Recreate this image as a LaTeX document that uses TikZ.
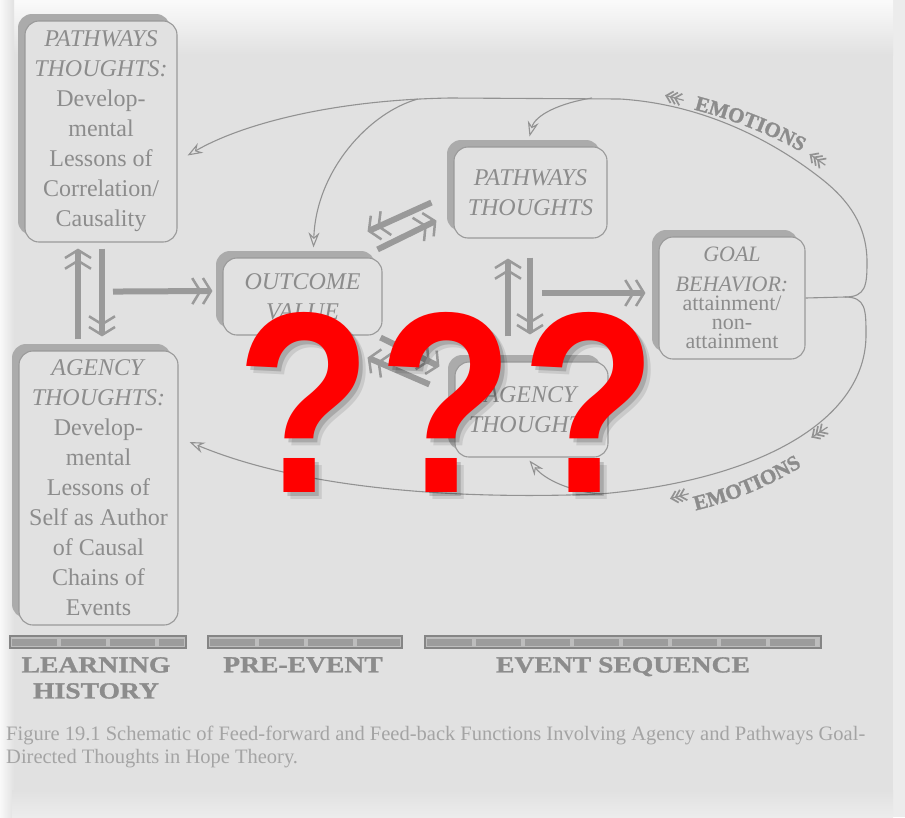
\documentclass[tikz,border=0pt]{standalone}
\usepackage{fontspec}
\newfontfamily\tnr{Liberation Serif}
\newfontfamily\slabf{Liberation Serif}[FakeStretch=1.2, BoldFeatures={FakeBold=1.2}]
\newfontfamily\emofam{Liberation Serif}[BoldFeatures={FakeBold=1.5}]
\newfontfamily\qsans{Liberation Sans}[FakeStretch=0.86]
\usetikzlibrary{arrows.meta,shadows,decorations.text}
\definecolor{pagec}{HTML}{E1E1E1}
\definecolor{outc}{HTML}{ECECEC}
\definecolor{boxc}{HTML}{9A9A9A}
\definecolor{shc}{HTML}{ABABAB}
\definecolor{txtc}{HTML}{8C8C8C}
\definecolor{arrc}{HTML}{9A9A9A}
\definecolor{linec}{HTML}{929292}
\definecolor{capc}{HTML}{A4A4A4}
\definecolor{barc}{HTML}{858585}
\definecolor{barf}{HTML}{BDBDBD}
\definecolor{bari}{HTML}{9C9C9C}
\definecolor{qred}{HTML}{FF0000}
\newcommand\emof{\emofam\bfseries\fontsize{21}{21}\selectfont\color{txtc}}
\tikzset{
  box/.style={draw=boxc, line width=1.1pt, rounded corners=14pt, fill=pagec, align=center,
    text=txtc, font=\tnr\fontsize{24}{30}\selectfont, inner sep=0pt,
    drop shadow={shadow xshift=-7pt, shadow yshift=7pt, fill=shc, opacity=1}},
  bigarr/.style={draw=arrc, line width=6pt,
    -{Straight Barb[length=8pt,width=26pt,line width=2.5pt] Straight Barb[length=8pt,width=26pt,line width=2.5pt]}},
  thinarr/.style={draw=linec, line width=1.1pt,
    -{Stealth[open,length=15pt,width=11pt,inset=5pt,line width=1.1pt]}},
  thinl/.style={draw=linec, line width=1.1pt},
  barst/.style={draw=barc, line width=1.3pt, fill=barf},
  barin/.style={draw=bari, line width=7pt, dash pattern=on 45pt off 4pt},
  lab/.style={text=txtc, font=\slabf\bfseries\fontsize{23}{26}\selectfont, align=center, inner sep=0pt},
  qmark/.style={font=\qsans\bfseries\fontsize{258}{258}\selectfont, anchor=base, inner sep=0pt},
  fletch/.pic={
    \draw[linec, line width=1.2pt] (-10,0) -- (9,0);
    \foreach \d in {-9,-4.5,0} \draw[linec, line width=1.7pt] (\d+6,-6) -- (\d,0) -- (\d+6,6);
  }
}
\begin{document}
\begin{tikzpicture}[x=1pt,y=-1pt]
\useasboundingbox (0,0) rectangle (905,817);
% page background
\fill[outc] (0,0) rectangle (905,817);
\fill[pagec] (12,0) rectangle (893,793);
\shade[top color=white!85!pagec, bottom color=pagec] (12,0) rectangle (893,55);
\shade[left color=white!80!pagec, right color=pagec] (0,0) rectangle (14,817);
\shade[top color=pagec, bottom color=outc] (12,790) rectangle (893,817);

% boxes
\node[box, minimum width=152pt, minimum height=221pt] (PL) at (101,131.5)
  {\textit{PATHWAYS}\\\textit{THOUGHTS:}\\Develop-\\mental\\Lessons of\\Correlation/\\Causality};
\node[box, minimum width=159pt, minimum height=274pt] (AL) at (98.5,488)
  {\textit{AGENCY}\\\textit{THOUGHTS:}\\Develop-\\mental\\Lessons of\\Self as Author\\of Causal\\Chains of\\Events};
\node[box, minimum width=159pt, minimum height=77pt] (OV) at (302.5,296.5)
  {\textit{OUTCOME}\\\textit{VALUE}};
\node[box, minimum width=153pt, minimum height=91pt] (PM) at (530.5,192.5)
  {\textit{PATHWAYS}\\\textit{THOUGHTS}};
\node[box, minimum width=153pt, minimum height=95pt] (AM) at (531.5,409.5)
  {\textit{AGENCY}\\\textit{THOUGHTS}};
\node[box, minimum width=146pt, minimum height=122pt, font=\tnr\fontsize{22}{19}\selectfont] (GB) at (732,298)
  {\textit{GOAL}\\[11pt]\textit{BEHAVIOR:}\\attainment/\\non-\\attainment};

% thick arrows
\draw[bigarr] ([shift={(-20.5,-11)}]AL.north) -- ([shift={(-23,6)}]PL.south);
\draw[bigarr] ([shift={(1,6)}]PL.south) -- ([shift={(3.5,-14)}]AL.north);
\draw[bigarr] ([shift={(12,49)}]PL.south) -- ([shift={(-10,-5.5)}]OV.west);
\draw[bigarr] ([shift={(-22,-36)}]PM.south west) -- ([shift={(-15,-26)}]OV.north east);
\draw[bigarr] ([shift={(-5,-8)}]OV.north east) -- ([shift={(-17,-18)}]PM.south west);
\draw[bigarr] ([shift={(-2,2)}]OV.south east) -- ([shift={(-15,5)}]AM.north west);
\draw[bigarr] ([shift={(-25,23)}]AM.north west) -- ([shift={(-15,22)}]OV.south east);
\draw[bigarr] ([shift={(-23.5,-25)}]AM.north) -- ([shift={(-22.5,20)}]PM.south);
\draw[bigarr] ([shift={(-0.5,19)}]PM.south) -- ([shift={(-1.5,-27)}]AM.north);
\draw[bigarr] ([shift={(-116,-5)}]GB.west) -- ([shift={(-13,-5)}]GB.west);

% feedback loops
\coordinate (J) at (845,297);
\coordinate (tPL) at ([shift={(10,24)}]PL.east);
\coordinate (tAL) at ([shift={(11,-46)}]AL.east);
\coordinate (b1) at (418,99);
\coordinate (b2) at (592,98);
\coordinate (b3) at (602,494);
\draw[thinl] (GB.east) -- (J);
\draw[thinarr] (J) .. controls (866,297) and (867,285) .. (867,262)
  .. controls (867,225) and (848,200) .. (823,180)
  .. controls (770,138) and (700,104) .. (620,99) -- (450,98)
  .. controls (330,100) and (240,125) .. (tPL);
\draw[thinarr] (b1) .. controls (370,112) and (316,170) .. ([shift={(11,-10)}]OV.north);
\draw[thinarr] (b2) .. controls (560,103) and (535,115) .. ([shift={(-1,-10)}]PM.north);
\draw[thinarr] (J) .. controls (866,297) and (866,310) .. (866,335)
  .. controls (866,420) and (760,480) .. (600,494)
  .. controls (450,500) and (300,488) .. (tAL);
\draw[thinarr] (b3) .. controls (572,492) and (545,480) .. ([shift={(-2,3)}]AM.south);

% emotions labels
\path[decorate, decoration={text along path, text align=center, text={|\emof|EMOTIONS}}]
  (684,107) .. controls (725,117) and (770,133) .. (810,157);
\path[decorate, decoration={text along path, text align=center, text={|\emof|EMOTIONS}}]
  (684,513) .. controls (728,504) and (772,486) .. (812,460);
\pic[rotate=-15] at (675,98) {fletch};
\pic[rotate=-35] at (818,160) {fletch};
\pic[rotate=15] at (680,496) {fletch};
\pic[rotate=33] at (820,432) {fletch};

% time-line bars
\draw[barst] (10,636) rectangle (186,648);
\draw[barin] (12,642) -- (184,642);
\draw[barst] (208,636) rectangle (402,648);
\draw[barin] (210,642) -- (400,642);
\draw[barst] (425,636) rectangle (821,648);
\draw[barin] (427,642) -- (819,642);
\node[lab, anchor=north] (lh) at (96,657) {LEARNING\\HISTORY};
\node[lab, anchor=north] (pe) at (303,657) {PRE-EVENT};
\node[lab, anchor=north] (es) at (623,657) {EVENT SEQUENCE};

% caption
\node[anchor=north west, align=left, text=capc, font=\tnr\fontsize{20.5}{23}\selectfont, inner sep=0pt] (cap) at (6,726)
  {Figure 19.1 Schematic of Feed-forward and Feed-back Functions Involving Agency and Pathways Goal-\\Directed Thoughts in Hope Theory.};

% red question marks
\foreach \x/\n in {304/1,446/2,589/3}{
  \node[qmark, text=black, opacity=0.10] (qs\n) at (\x+7,499) {?};
  \node[qmark, text=black, opacity=0.16] (qt\n) at (\x+4,496) {?};
  \node[qmark, text=qred] (q\n) at (\x,492) {?};
}
\end{tikzpicture}
\end{document}
